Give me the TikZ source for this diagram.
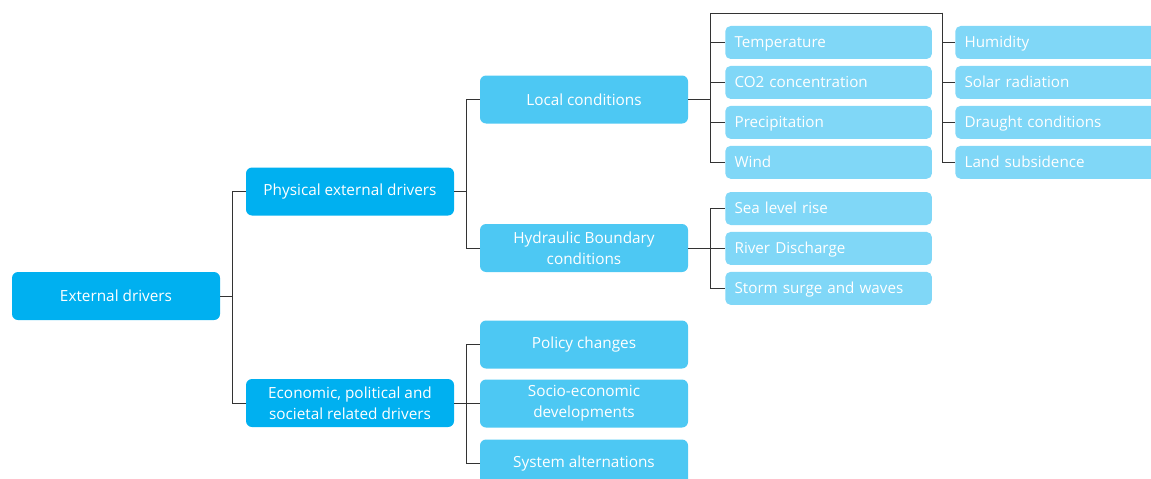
\documentclass[tikz,border=0pt]{standalone}
\usepackage{fontspec}
\setmainfont{Open Sans}
\usepackage{tikz}
\usepackage{xcolor}
\usetikzlibrary{positioning}
\definecolor{rootblue}{HTML}{00B0F0}
\definecolor{midblue}{HTML}{4DC8F3}
\definecolor{leafblue}{HTML}{80D7F7}
\definecolor{wire}{HTML}{333333}
\tikzset{
  driver/.style={
    rounded corners=4.5pt, fill=#1, draw=none,
    minimum width=156pt, minimum height=36pt,
    text=white, align=center, inner sep=2pt,
    font=\fontsize{11.5}{15.7}\selectfont
  },
  driver/.default=rootblue,
  leaf/.style={
    rounded corners=4pt, fill=leafblue, draw=none,
    minimum width=155pt, minimum height=24.75pt,
    text=white, anchor=west, inner xsep=7pt, text width=141pt,
    text height=8.5pt, text depth=0.5pt,
    font=\fontsize{11.4}{13}\selectfont
  },
  link/.style={draw=wire, line width=0.7pt}
}

\begin{document}
\begin{tikzpicture}[x=0.75pt, y=-0.75pt, node distance=4.8pt]
    \useasboundingbox (0,0) rectangle (1151,478);
    \clip (0,0) rectangle (1151,478);

    % main branches
    \node[driver] (ext) at (116,296) {External drivers};
    \node[driver] (phys) at (350,191.5) {Physical external drivers};
    \node[driver] (econ) at (350,403) {Economic, political and\\societal related drivers};

    \node[driver=midblue] (local) at (584,99.5) {Local conditions};
    \node[driver=midblue] (hydr) at (584,248) {Hydraulic Boundary\\conditions};
    \node[driver=midblue] (policy) at (584,344.5) {Policy changes};
    \node[driver=midblue] (socio) at (584,403.5) {Socio-economic\\developments};
    \node[driver=midblue] (sysalt) at (584,463.5) {System alternations};

    % local conditions, first column
    \node[leaf] (temp) at (725,42.5) {Temperature};
    \node[leaf, below=of temp] (co2) {CO2 concentration};
    \node[leaf, below=of co2] (prec) {Precipitation};
    \node[leaf, below=of prec] (wind) {Wind};

    % local conditions, second column
    \node[leaf] (humid) at (955,42.5) {Humidity};
    \node[leaf, below=of humid] (solar) {Solar radiation};
    \node[leaf, below=of solar] (drought) {Draught conditions};
    \node[leaf, below=of drought] (subs) {Land subsidence};

    % hydraulic boundary conditions
    \node[leaf] (sea) at (725,208.5) {Sea level rise};
    \node[leaf, below=of sea] (river) {River Discharge};
    \node[leaf, below=of river] (storm) {Storm surge and waves};

    % connectors
    \draw[link] (ext.east) -- ++(12,0) coordinate (j0);
    \draw[link] (j0) |- (phys.west);
    \draw[link] (j0) |- (econ.west);

    \draw[link] (phys.east) -- ++(12,0) coordinate (j1);
    \draw[link] (j1) |- (local.west);
    \draw[link] (j1) |- (hydr.west);

    \draw[link] (econ.east) -- ++(12,0) coordinate (j2);
    \foreach \n in {policy,socio,sysalt}
      \draw[link] (j2) |- (\n.west);

    \draw[link] (local.east) -- ++(22,0) coordinate (j3);
    \foreach \n in {temp,co2,prec,wind}
      \draw[link] (j3) |- (\n.west);
    \draw[link] (j3) |- (942,13) coordinate (j4);
    \foreach \n in {humid,solar,drought,subs}
      \draw[link] (j4) |- (\n.west);

    \draw[link] (hydr.east) -- ++(22,0) coordinate (j5);
    \foreach \n in {sea,river,storm}
      \draw[link] (j5) |- (\n.west);
  \end{tikzpicture}
\end{document}
